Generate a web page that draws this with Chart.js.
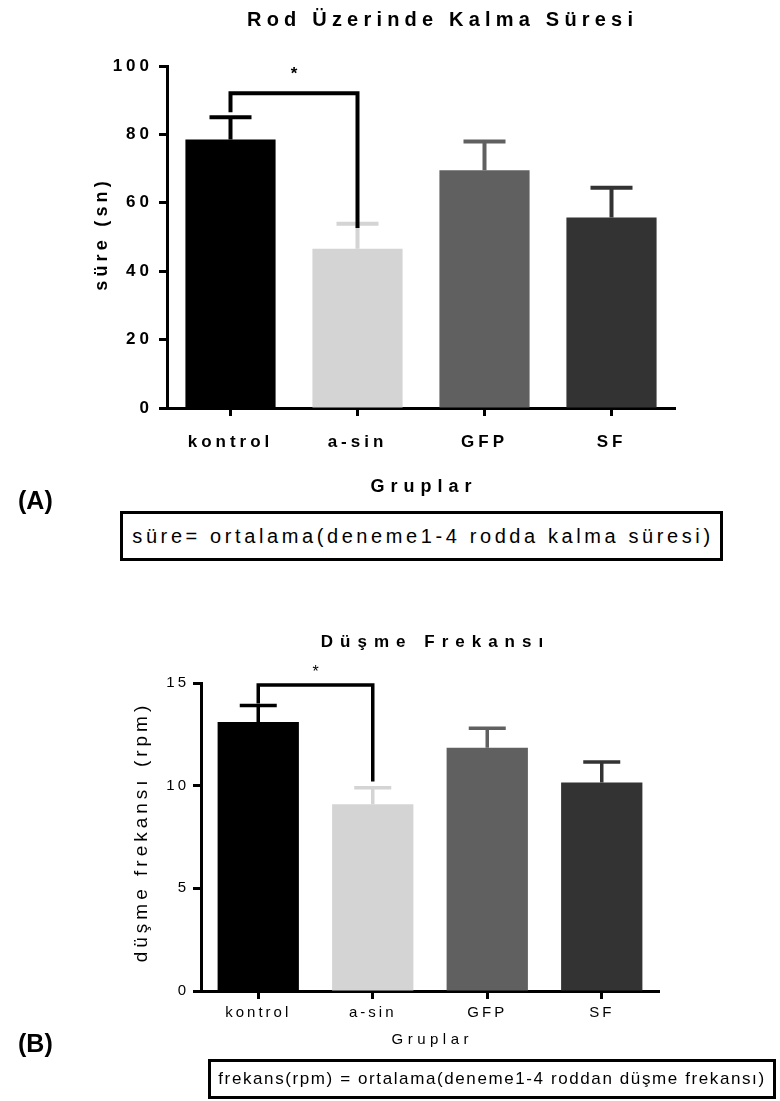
<!DOCTYPE html>
<html>
<head>
<meta charset="utf-8">
<script src="https://cdn.jsdelivr.net/npm/chart.js@4.4.1/dist/chart.umd.min.js"></script>
<style>
    body { margin: 0; background: #fff; font-family: "Liberation Sans", Arial, sans-serif; }
    #page { position: relative; width: 780px; height: 1101px; }
    canvas { position: absolute; left: 0; }
    .tag { position: absolute; left: 18px; font: bold 25px "Liberation Sans", Arial, sans-serif; line-height: 30px; color: #000; }
    .note {
        position: absolute; box-sizing: border-box; border: 3px solid #000;
        display: flex; align-items: center; justify-content: center;
        white-space: nowrap; color: #000;
    }
</style>
</head>
<body>
<div id="page">
    <canvas id="sureChart" width="780" height="505" style="top:0"></canvas>
    <canvas id="frekansChart" width="780" height="460" style="top:600px"></canvas>

    <div class="tag" style="top:485px">(A)</div>
    <div class="note" style="left:120px; top:511px; width:603px; height:50px; font-size:20px; letter-spacing:3.6px; padding-left:3px">süre= ortalama(deneme1-4 rodda kalma süresi)</div>

    <div class="tag" style="top:1028px">(B)</div>
    <div class="note" style="left:208px; top:1059px; width:568px; height:40px; font-size:17px; letter-spacing:1.6px">frekans(rpm) = ortalama(deneme1-4 roddan düşme frekansı)</div>
</div>

<script>
const groups = ['kontrol', 'a-sin', 'GFP', 'SF'];
const barColors = ['#000000', '#d4d4d4', '#606060', '#333333'];

// Rod üzerinde kalma süresi (sn), ortalama ve SEM
const sureMean = [78.5, 46.6, 69.5, 55.7];
const sureSem = [6.5, 7.3, 8.4, 8.7];
const sureTicks = [0, 20, 40, 60, 80, 100];
// kontrol vs a-sin: [bracket height, left leg end, right leg end, star]
const sureBracket = [92, 86.5, 52.6, 97.6];

// Düşme frekansı (rpm), ortalama ve SEM
const frekansMean = [13.1, 9.1, 11.85, 10.15];
const frekansSem = [0.8, 0.8, 0.95, 1.0];
const frekansTicks = [0, 5, 10, 15];
const frekansBracket = [14.9, 14.0, 10.2, 15.5];

const FONT = '"Liberation Sans", Arial, sans-serif';

// Sets canvas letter spacing for tick labels, then draws spaced titles
const spacedText = {
    id: 'spacedText',
    beforeDraw(chart, args, opts) {
        chart.ctx.letterSpacing = opts.tickSpacing + 'px';
    },
    afterDraw(chart, args, opts) {
        const ctx = chart.ctx;
        opts.items.forEach(t => {
            ctx.save();
            ctx.letterSpacing = t.spacing + 'px';
            ctx.font = t.font;
            ctx.fillStyle = '#000';
            ctx.textAlign = 'center';
            ctx.textBaseline = 'middle';
            ctx.translate(t.x, t.y);
            if (t.rotate) ctx.rotate(-Math.PI / 2);
            ctx.fillText(t.text, t.spacing / 2, 0);
            ctx.restore();
        });
    }
};

// SEM bars above each column plus the significance bracket
const errorBars = {
    id: 'errorBars',
    afterDatasetsDraw(chart, args, opts) {
        const ctx = chart.ctx;
        const xs = chart.scales.x, ys = chart.scales.y;
        ctx.save();
        ctx.lineCap = 'butt';
        ctx.lineJoin = 'miter';
        ctx.lineWidth = opts.width;
        opts.means.forEach((m, i) => {
            const cx = xs.getPixelForValue(i);
            const top = ys.getPixelForValue(m + opts.errors[i]);
            ctx.strokeStyle = barColors[i];
            ctx.beginPath();
            ctx.moveTo(cx, ys.getPixelForValue(m));
            ctx.lineTo(cx, top);
            ctx.moveTo(cx - opts.cap / 2, top);
            ctx.lineTo(cx + opts.cap / 2, top);
            ctx.stroke();
        });

        const [h, leftEnd, rightEnd, star] = opts.bracket;
        const x0 = xs.getPixelForValue(0), x1 = xs.getPixelForValue(1);
        ctx.strokeStyle = '#000';
        ctx.lineWidth = opts.bracketWidth;
        ctx.beginPath();
        ctx.moveTo(x0, ys.getPixelForValue(leftEnd));
        ctx.lineTo(x0, ys.getPixelForValue(h));
        ctx.lineTo(x1, ys.getPixelForValue(h));
        ctx.lineTo(x1, ys.getPixelForValue(rightEnd));
        ctx.stroke();

        ctx.letterSpacing = '0px';
        ctx.fillStyle = '#000';
        ctx.font = opts.starFont;
        ctx.textAlign = 'center';
        ctx.textBaseline = 'middle';
        ctx.fillText('*', (x0 + x1) / 2, ys.getPixelForValue(star));
        ctx.restore();
    }
};

function barChart(id, cfg) {
    return new Chart(document.getElementById(id), {
        type: 'bar',
        data: {
            labels: groups,
            datasets: [{
                data: cfg.means,
                backgroundColor: barColors,
                borderWidth: 0,
                barPercentage: 0.71,
                categoryPercentage: 1
            }]
        },
        plugins: [errorBars, spacedText],
        options: {
            responsive: false,
            animation: false,
            layout: { padding: cfg.padding },
            plugins: {
                legend: { display: false },
                tooltip: { enabled: false },
                errorBars: {
                    means: cfg.means,
                    errors: cfg.errors,
                    bracket: cfg.bracket,
                    width: cfg.lineWidth,
                    cap: cfg.cap,
                    bracketWidth: cfg.lineWidth,
                    starFont: cfg.starFont
                },
                spacedText: { tickSpacing: cfg.tickSpacing, items: cfg.texts }
            },
            scales: {
                x: {
                    afterFit: s => { s.height = cfg.xHeight; },
                    border: { color: '#000', width: cfg.axisWidth },
                    grid: {
                        offset: false, drawOnChartArea: false,
                        tickLength: 8, tickWidth: cfg.axisWidth, tickColor: '#000'
                    },
                    ticks: { color: '#000', font: cfg.tickFont, padding: cfg.xPad, maxRotation: 0 }
                },
                y: {
                    min: cfg.ticks[0],
                    max: cfg.ticks[cfg.ticks.length - 1],
                    afterFit: s => { s.width = cfg.yWidth; },
                    afterBuildTicks: s => { s.ticks = cfg.ticks.map(v => ({ value: v })); },
                    border: { color: '#000', width: cfg.axisWidth },
                    grid: {
                        drawOnChartArea: false,
                        tickLength: 8, tickWidth: cfg.axisWidth, tickColor: '#000'
                    },
                    ticks: { color: '#000', font: cfg.tickFont, padding: cfg.yPad }
                }
            }
        }
    });
}

// (A) Rod üzerinde kalma süresi
barChart('sureChart', {
    means: sureMean,
    errors: sureSem,
    bracket: sureBracket,
    ticks: sureTicks,
    padding: { top: 66, right: 105, bottom: 0, left: 0 },
    yWidth: 167,
    xHeight: 97,
    axisWidth: 3,
    lineWidth: 4,
    cap: 42,
    xPad: 16,
    yPad: 6,
    tickSpacing: 4,
    tickFont: { family: FONT, size: 17, weight: 'bold' },
    starFont: 'bold 17px ' + FONT,
    texts: [
        { text: 'Rod Üzerinde Kalma Süresi', x: 440, y: 20, font: 'bold 20px ' + FONT, spacing: 5.2 },
        { text: 'süre (sn)', x: 102, y: 236, font: 'bold 18px ' + FONT, spacing: 4.2, rotate: true },
        { text: 'Gruplar', x: 421, y: 487, font: 'bold 18px ' + FONT, spacing: 6 }
    ]
});

// (B) Düşme frekansı
barChart('frekansChart', {
    means: frekansMean,
    errors: frekansSem,
    bracket: frekansBracket,
    ticks: frekansTicks,
    padding: { top: 83, right: 121, bottom: 0, left: 0 },
    yWidth: 201,
    xHeight: 69,
    axisWidth: 3,
    lineWidth: 3.5,
    cap: 37,
    xPad: 5,
    yPad: 4,
    tickSpacing: 3,
    tickFont: { family: FONT, size: 15 },
    starFont: '16px ' + FONT,
    texts: [
        { text: 'Düşme Frekansı', x: 432, y: 42, font: 'bold 17px ' + FONT, spacing: 7 },
        { text: 'düşme frekansı (rpm)', x: 142, y: 234, font: '19px ' + FONT, spacing: 4, rotate: true },
        { text: 'Gruplar', x: 430, y: 440, font: '15px ' + FONT, spacing: 4.5 }
    ]
});
</script>
</body>
</html>
